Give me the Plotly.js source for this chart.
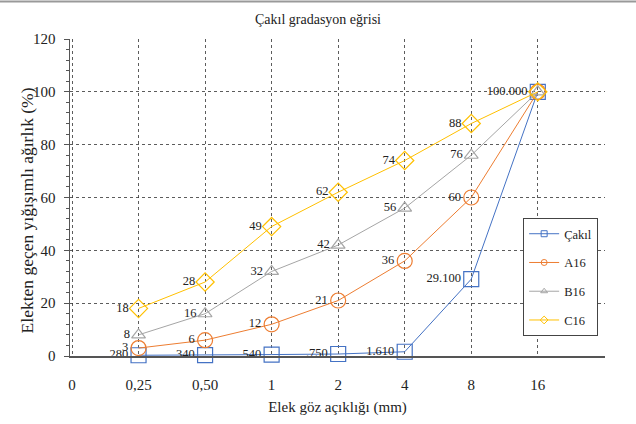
<!DOCTYPE html>
<html><head><meta charset="utf-8">
<script src="https://cdn.plot.ly/plotly-3.0.1.min.js"></script>
<style>html,body{margin:0;padding:0;background:#fff}#c{width:636px;height:424px}</style>
</head><body><div id="c"></div>
<script>
const categories = ['0', '0,25', '0,50', '1', '2', '4', '8', '16'];
const sieveCats = ['0,25', '0,50', '1', '2', '4', '8', '16'];
const cakil = [0.28, 0.34, 0.54, 0.75, 1.61, 29.1, 100];
const a16 = [3, 6, 12, 21, 36, 60, 100];
const b16 = [8, 16, 32, 42, 56, 76, 100];
const c16 = [18, 28, 49, 62, 74, 88, 100];
const seriesNames = ['Çakıl', 'A16', 'B16', 'C16'];
const colors = ['#4472C4', '#ED7D31', '#A5A5A5', '#FFC000'];
const yTitle = 'Elekten geçen yığışımlı ağırlık (%)';

const F = 'Liberation Serif';
const xpos = sieveCats.map(c => categories.indexOf(c));

function fmtCakil(v) { return v.toFixed(3).replace(/^0\./, '.'); }

const series = [cakil, a16, b16, c16];
const symbols = ['square-open', 'circle-open', 'triangle-up-open', 'diamond-open'];
const sizes = [15, 15, 12, 14];
const traces = [];
series.forEach((s, i) => {
  const text = s.map((v, j) => i === 0 ? fmtCakil(v) : (j === s.length - 1 ? '' : String(v)));
  traces.push({
    type: 'scatter', mode: 'lines+markers+text', x: xpos, y: s, name: seriesNames[i],
    showlegend: false, text: text, textposition: 'middle left',
    textfont: {family: F, size: 12.5, color: '#222'},
    line: {color: colors[i], width: 1},
    marker: {symbol: symbols[i], size: sizes[i], color: colors[i], line: {width: 1.2, color: colors[i]}},
    cliponaxis: false
  });
});
series.forEach((s, i) => {
  traces.push({
    type: 'scatter', mode: 'lines+markers', x: [null], y: [null], name: seriesNames[i],
    legendgroup: 'g' + i,
    line: {color: colors[i], width: 1},
    marker: {symbol: symbols[i], size: 6, color: colors[i], line: {width: 1, color: colors[i]}}
  });
});

const layout = {
  width: 636, height: 424,
  margin: {l: 70, r: 31, t: 39, b: 68},
  paper_bgcolor: '#fff', plot_bgcolor: '#fff',
  font: {family: F, size: 14, color: '#222'},
  title: {text: 'Çakıl gradasyon eğrisi', font: {family: F, size: 14, color: '#222'}, x: 0.5, xanchor: 'center', y: 0.955, yanchor: 'middle'},
  showlegend: true,
  legend: {x: 0.847, y: 0.435, xanchor: 'left', yanchor: 'top', bgcolor: '#fff', bordercolor: '#444', borderwidth: 1,
    font: {family: F, size: 12.5, color: '#222'}, traceorder: 'grouped', tracegroupgap: 9.5, itemwidth: 30},
  xaxis: {
    range: [-0.03, 8.01], tickvals: [0,1,2,3,4,5,6,7,8], ticktext: categories.concat(['']),
    showgrid: true, gridcolor: '#333', griddash: '3px,3px', gridwidth: 0.8,
    showline: true, linecolor: '#555', linewidth: 1.5, zeroline: false,
    ticks: 'outside', ticklen: 14, tickcolor: 'rgba(0,0,0,0)',
    tickfont: {family: F, size: 15, color: '#222'},
    title: {text: 'Elek göz açıklığı (mm)', font: {family: F, size: 15, color: '#222'}},
    automargin: false
  },
  yaxis: {
    range: [0, 120], dtick: 20, tick0: 0,
    showgrid: true, gridcolor: '#333', griddash: '3px,3px', gridwidth: 0.8,
    showline: true, linecolor: '#555', linewidth: 1.5, zeroline: false,
    ticks: 'outside', ticklen: 5, tickcolor: '#555', ticklabelstandoff: 5,
    minor: {dtick: 4, ticks: 'outside', ticklen: 3, tickcolor: '#555', showgrid: false},
    tickfont: {family: F, size: 15, color: '#222'},
    automargin: false
  },
  annotations: [
    {text: yTitle, xref: 'paper', yref: 'paper', x: -0.08, y: 0.46, xanchor: 'center', yanchor: 'middle',
     textangle: -90, showarrow: false, font: {family: F, size: 17.5, color: '#222'}}
  ],
  shapes: [
    {type: 'line', xref: 'paper', yref: 'paper', x0: -0.2, x1: 1.1, y0: 1.118, y1: 1.118, line: {color: '#999', width: 2}}
  ]
};
Plotly.newPlot('c', traces, layout, {displayModeBar: false, staticPlot: true});
</script></body></html>
